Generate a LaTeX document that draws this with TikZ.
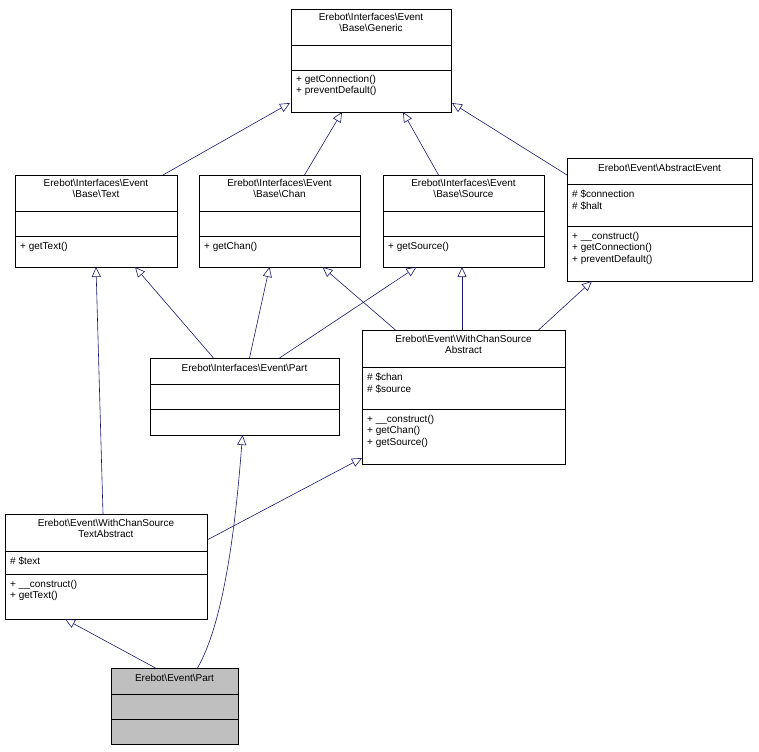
\documentclass[tikz,border=0pt]{standalone}
\usepackage{fontspec}
\setmainfont{Liberation Sans}
\usetikzlibrary{arrows.meta}
\definecolor{edge}{HTML}{191970}
\begin{document}
\begin{tikzpicture}[x=1pt,y=-1pt,
  box/.style={draw,thick,anchor=north west,inner sep=0pt,outer sep=0pt},
  t/.style={font=\fontsize{10}{11.5}\selectfont,align=center,anchor=north,inner sep=0pt},
  m/.style={font=\fontsize{10}{11.5}\selectfont,align=left,anchor=north west,inner sep=0pt},
  inh/.style={edge,semithick,-{Triangle[open,length=10pt,width=9pt]}}]
\useasboundingbox (0,0) rectangle (759,751);
\newcommand{\mybox}[8]{% name, x1,y1,x2,y2, sep1, sep2, fill
  \node[box,fill=#8,minimum width=#4-#2,minimum height=#5-#3] (#1) at (#2,#3) {};
  \draw[thick] (#2,#6) -- (#4,#6) (#2,#7) -- (#4,#7);}
\mybox{gen}{291}{9}{451}{112}{45}{70}{white}
\node[t] at (371,13) {Erebot\textbackslash Interfaces\textbackslash Event\\\textbackslash Base\textbackslash Generic};
\node[m] at (296,75) {+ getConnection()\\+ preventDefault()};
\mybox{txt}{15}{175}{177}{267}{211}{236}{white}
\node[t] at (96,179) {Erebot\textbackslash Interfaces\textbackslash Event\\\textbackslash Base\textbackslash Text};
\node[m] at (20,242) {+ getText()};
\mybox{chan}{199}{175}{360}{267}{211}{236}{white}
\node[t] at (279.5,179) {Erebot\textbackslash Interfaces\textbackslash Event\\\textbackslash Base\textbackslash Chan};
\node[m] at (204,242) {+ getChan()};
\mybox{src}{383}{175}{544}{267}{211}{236}{white}
\node[t] at (463.5,179) {Erebot\textbackslash Interfaces\textbackslash Event\\\textbackslash Base\textbackslash Source};
\node[m] at (388,242) {+ getSource()};
\mybox{abs}{567}{158}{752}{281}{184}{226}{white}
\node[t] at (659.5,164) {Erebot\textbackslash Event\textbackslash AbstractEvent};
\node[m] at (572,190) {\# \$connection\\\# \$halt};
\node[m] at (572,232) {+ \_\_construct()\\+ getConnection()\\+ preventDefault()};
\mybox{ipart}{150}{358}{339}{435}{384}{409}{white}
\node[t] at (244.5,364) {Erebot\textbackslash Interfaces\textbackslash Event\textbackslash Part};
\mybox{wcsa}{362}{330}{565}{464}{367}{409}{white}
\node[t] at (463.5,335) {Erebot\textbackslash Event\textbackslash WithChanSource\\Abstract};
\node[m] at (367,373) {\# \$chan\\\# \$source};
\node[m] at (367,415) {+ \_\_construct()\\+ getChan()\\+ getSource()};
\mybox{wcsta}{5}{514}{207}{619}{551}{574}{white}
\node[t] at (106,519) {Erebot\textbackslash Event\textbackslash WithChanSource\\TextAbstract};
\node[m] at (10,557) {\# \$text};
\node[m] at (10,580) {+ \_\_construct()\\+ getText()};
\mybox{part}{111}{668}{238}{744}{694}{719}{black!25}
\node[t] at (174.5,674) {Erebot\textbackslash Event\textbackslash Part};
% edges
\draw[inh] ([xshift=67pt]txt.north) -- ([xshift=-1pt,yshift=9pt]gen.south west);
\draw[inh] ([xshift=25pt]chan.north) -- ([xshift=-29pt]gen.south);
\draw[inh] ([xshift=-25pt]src.north) -- ([xshift=32pt]gen.south);
\draw[inh] ([yshift=-17pt]abs.north west) -- ([xshift=1pt,yshift=9pt]gen.south east);
\draw[inh] ([xshift=-31pt]ipart.north) -- ([xshift=39pt]txt.south);
\draw[inh] ([xshift=5pt]ipart.north) -- ([xshift=-10pt]chan.south);
\draw[inh] ([xshift=35pt]ipart.north) -- ([xshift=-47pt]src.south);
\draw[inh] ([xshift=-68pt]wcsa.north) -- ([xshift=43pt]chan.south);
\draw[inh] ([xshift=-1.5pt]wcsa.north) -- ([xshift=-1.5pt]src.south);
\draw[inh] ([xshift=75pt]wcsa.north) -- ([xshift=-67.5pt]abs.south);
\draw[inh] ([xshift=-3pt]wcsta.north) -- (txt.south);
\draw[inh] ([yshift=-26pt]wcsta.north east) -- ([yshift=6pt]wcsa.south west);
\draw[inh] ([xshift=-19pt]part.north) -- ([xshift=-41pt]wcsta.south);
\draw[inh] ([xshift=23pt]part.north) .. controls (225,620) and (236,520) .. ([xshift=-2pt]ipart.south);
\end{tikzpicture}
\end{document}
